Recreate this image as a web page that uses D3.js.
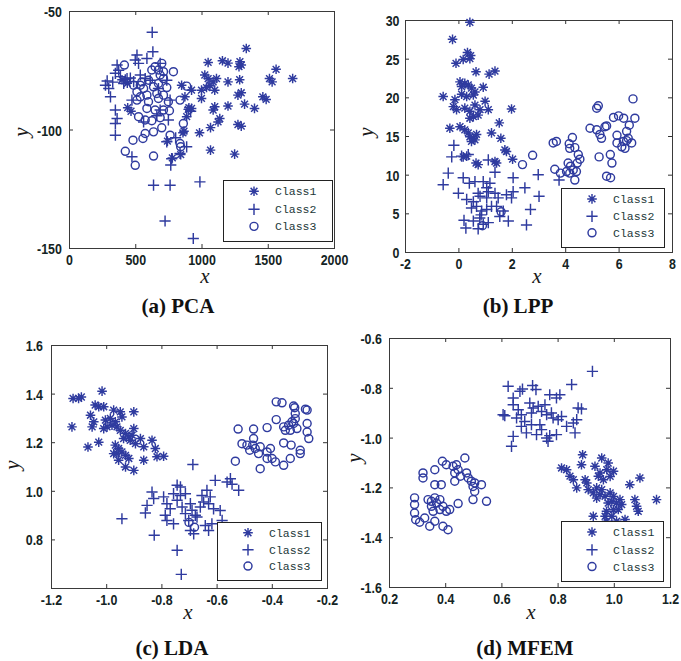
<!DOCTYPE html>
<html>
<head>
<meta charset="utf-8">
<script src="https://cdn.jsdelivr.net/npm/d3@7"></script>
<style>
  body { margin: 0; background: #fff; }
  svg { display: block; }
</style>
</head>
<body>
<svg id="fig" width="681" height="661"></svg>
<script>
// ---- data: [x, y] per point ----
const classNames = ['Class1', 'Class2', 'Class3'];

// (a) PCA
const pcaXTicks = [0, 500, 1000, 1500, 2000];
const pcaYTicks = [-150, -100, -50];
const pcaClass1 = [[1338,-65.8],[1050,-71.7],[1158,-71],[1200,-72],[1290,-71.4],[1300,-72.8],[1283,-73.5],[1563,-74.6],[1688,-78.5],[1513,-78.5],[1533,-79.9],[1025,-77],[1050,-78.5],[1088,-79.9],[1063,-81.3],[1038,-82.3],[1100,-83.4],[1113,-78.5],[1000,-83.4],[1200,-79.9],[1288,-79],[850,-81.3],[925,-83.4],[875,-86.2],[1000,-86.9],[1275,-85.5],[1300,-84.5],[1463,-86.2],[1488,-87.3],[1325,-89.3],[1400,-91.1],[1200,-90.1],[1100,-90.4],[1088,-91.8],[900,-91.5],[925,-91.1],[888,-94.6],[1138,-95.4],[1125,-96.8],[1275,-97.9],[1300,-98.6],[1068,-99.2],[985,-101.4],[860,-101.4],[1068,-108.7],[1250,-110.4],[443,-90.8],[468,-92.3],[905,-90.8],[868,-100.7],[743,-104.9],[780,-112],[843,-110.6],[400,-79],[440,-80.5]];
const pcaClass2 = [[628,-59],[633,-67.2],[513,-68.6],[500,-70.7],[525,-72.1],[588,-70],[688,-72.1],[363,-72.8],[375,-75],[350,-76.3],[275,-81.3],[300,-82.7],[313,-86.2],[350,-91.8],[363,-95.4],[350,-97.5],[350,-102.4],[388,-77.7],[425,-79],[463,-78.3],[488,-79.8],[413,-80.6],[538,-77],[575,-78.5],[613,-79.2],[675,-82.7],[738,-79.2],[763,-87.6],[750,-96],[638,-123.5],[763,-123.5],[988,-122.1],[725,-138.6],[938,-146],[688,-91.8],[663,-94.2],[475,-111.5],[888,-107.3],[838,-110.1],[775,-112.3],[768,-115],[738,-105.2],[563,-96.8],[475,-87.6],[438,-78.5],[805,-103.5],[918,-92.3],[288,-79.5],[330,-80]];
const pcaClass3 = [[418,-72.8],[625,-74.9],[650,-73.5],[713,-75.6],[788,-75.6],[700,-72.1],[550,-79.9],[600,-79.2],[563,-82.7],[638,-82],[675,-80.6],[738,-82.3],[513,-84.1],[538,-86.2],[588,-85.5],[663,-84.8],[713,-85.5],[513,-87.6],[600,-88.3],[675,-86.9],[750,-88.3],[588,-91.1],[650,-91.8],[713,-91.8],[758,-92.1],[525,-94.6],[575,-96],[625,-96.3],[688,-95],[700,-99.3],[638,-101],[575,-101.7],[483,-104.5],[558,-103.8],[763,-102.4],[838,-105.9],[843,-107.3],[863,-97.5],[838,-87.6],[888,-81.7],[425,-109.2],[500,-115.1],[638,-111.2],[688,-77],[713,-78.5],[675,-74.9],[488,-81.3],[538,-81.3]];

// (b) LPP
const lppXTicks = [-2, 0, 2, 4, 6, 8];
const lppYTicks = [0, 5, 10, 15, 20, 25, 30];
const lppClass1 = [[0.43,29.7],[-0.22,27.5],[-0.09,24.4],[0.34,25.8],[0.43,25.0],[0.18,24.9],[0.46,25.4],[0.66,23.3],[1.15,23.0],[1.37,23.4],[-0.57,20.1],[0.06,22.0],[0.24,21.8],[0.12,21.4],[0.37,21.6],[0.49,21.2],[0.93,21.3],[0.12,20.4],[0.31,20.1],[0.56,20.3],[0.62,20.7],[-0.13,19.7],[-0.19,18.8],[-0.07,18.4],[0.24,18.6],[0.43,18.2],[0.62,19.0],[0.81,18.4],[1.0,19.5],[1.12,18.4],[1.99,18.5],[0.56,17.5],[0.74,17.7],[0.43,17.3],[-0.32,16.0],[0.06,16.2],[0.24,15.8],[0.37,15.4],[0.56,14.7],[0.68,15.2],[0.49,14.3],[0.62,14.5],[0.43,14.9],[1.24,15.4],[1.53,16.7],[1.59,14.7],[1.74,13.2],[1.80,13.0],[2.03,12.0],[0.66,11.5],[0.74,11.3],[1.37,11.7],[1.43,11.5],[0.18,12.3],[0.31,12.4]];
const lppClass2 = [[-0.17,13.8],[-0.25,12.3],[0.12,12.4],[0.37,12.6],[-0.38,10.2],[-0.57,8.7],[0.18,9.6],[0.41,8.9],[0.62,9.1],[0.0,7.6],[0.31,6.8],[0.56,6.5],[0.81,7.2],[1.06,7.0],[0.93,9.1],[1.18,8.9],[1.06,8.3],[0.74,7.6],[1.12,7.8],[1.37,7.6],[1.49,7.0],[0.49,5.7],[0.68,5.9],[0.87,5.3],[1.06,5.5],[1.24,5.9],[0.21,4.1],[0.28,3.1],[0.56,4.0],[0.74,3.0],[0.93,3.6],[1.12,3.8],[1.43,5.9],[1.68,5.3],[1.55,4.6],[1.87,4.0],[1.80,7.4],[1.99,7.0],[2.05,9.6],[2.05,7.8],[2.49,8.3],[2.70,5.5],[2.55,3.5],[2.99,10.0],[3.02,7.2],[1.12,11.9],[1.37,10.3],[3.77,9.3],[0.85,4.8],[0.8,4.4]];
const lppClass3 = [[2.78,12.5],[2.40,11.3],[3.55,14.1],[3.67,14.3],[3.61,10.7],[3.82,10.2],[4.27,14.8],[4.15,14.0],[4.17,13.4],[4.36,13.5],[4.49,12.6],[4.55,12.0],[4.45,11.5],[4.11,11.5],[4.20,11.1],[4.30,10.6],[4.42,10.4],[4.17,10.2],[4.05,10.4],[4.36,9.3],[4.93,16.0],[5.18,18.6],[5.24,18.9],[5.18,15.8],[5.30,15.2],[5.36,14.7],[5.49,16.2],[5.55,16.3],[5.27,12.3],[5.55,9.8],[5.70,9.6],[5.69,12.6],[5.75,11.5],[5.81,17.4],[6.0,17.6],[6.19,17.3],[5.94,15.1],[5.94,14.1],[6.12,13.6],[6.24,13.4],[6.18,14.3],[6.30,15.6],[6.36,14.7],[6.49,14.1],[6.54,19.8],[6.61,17.3],[6.4,16.4],[6.30,14.4],[1.6,5.2],[0.9,3.4]];

// (c) LDA
const ldaXTicks = [-1.2, -1.0, -0.8, -0.6, -0.4, -0.2];
const ldaYTicks = [0.8, 1.0, 1.2, 1.4, 1.6];
const ldaClass1 = [[-1.12,1.38],[-1.09,1.386],[-1.10,1.38],[-1.015,1.41],[-1.124,1.263],[-1.066,1.18],[-1.027,1.2],[-1.057,1.311],[-1.045,1.284],[-1.051,1.263],[-1.04,1.353],[-1.027,1.346],[-1.009,1.346],[-0.973,1.332],[-0.949,1.325],[-0.943,1.304],[-0.9,1.325],[-1.003,1.291],[-0.985,1.298],[-0.967,1.284],[-0.997,1.263],[-0.979,1.27],[-0.961,1.263],[-0.949,1.249],[-0.93,1.236],[-0.918,1.222],[-0.906,1.229],[-0.937,1.215],[-0.913,1.208],[-0.967,1.188],[-0.955,1.174],[-0.943,1.16],[-0.961,1.153],[-0.93,1.146],[-0.973,1.153],[-0.955,1.126],[-0.918,1.133],[-0.93,1.098],[-0.9,1.084],[-0.894,1.194],[-0.876,1.215],[-0.864,1.181],[-0.834,1.208],[-0.822,1.174],[-0.816,1.14],[-0.792,1.142],[-0.864,1.126],[-1.009,1.256],[-0.9,1.256]];
const ldaClass2 = [[-0.686,1.108],[-0.943,0.885],[-0.826,0.817],[-0.743,0.755],[-0.728,0.656],[-0.834,0.995],[-0.828,0.968],[-0.852,0.94],[-0.858,0.909],[-0.792,0.975],[-0.78,0.947],[-0.768,0.926],[-0.786,0.899],[-0.78,0.878],[-0.756,0.864],[-0.743,1.023],[-0.731,1.016],[-0.756,0.988],[-0.743,0.961],[-0.731,0.981],[-0.713,0.988],[-0.725,0.933],[-0.713,0.906],[-0.695,0.947],[-0.689,0.92],[-0.677,0.899],[-0.701,0.878],[-0.671,0.892],[-0.659,0.933],[-0.647,0.954],[-0.653,0.981],[-0.635,1.002],[-0.623,0.975],[-0.629,0.947],[-0.611,0.926],[-0.695,0.837],[-0.683,0.823],[-0.641,0.857],[-0.629,0.837],[-0.605,1.043],[-0.587,0.919],[-0.617,0.864],[-0.562,1.036],[-0.55,1.05],[-0.52,1.002],[-0.544,1.027],[-0.58,0.878]];
const ldaClass3 = [[-0.532,1.122],[-0.522,1.254],[-0.466,1.254],[-0.466,1.215],[-0.469,1.188],[-0.46,1.174],[-0.448,1.153],[-0.508,1.194],[-0.49,1.188],[-0.48,1.167],[-0.417,1.26],[-0.442,1.181],[-0.417,1.16],[-0.405,1.174],[-0.399,1.133],[-0.417,1.133],[-0.387,1.119],[-0.442,1.091],[-0.384,1.293],[-0.384,1.366],[-0.363,1.362],[-0.321,1.349],[-0.317,1.342],[-0.278,1.336],[-0.272,1.332],[-0.357,1.263],[-0.339,1.27],[-0.321,1.277],[-0.315,1.297],[-0.333,1.249],[-0.351,1.249],[-0.309,1.256],[-0.327,1.284],[-0.272,1.277],[-0.272,1.242],[-0.266,1.215],[-0.357,1.197],[-0.33,1.188],[-0.357,1.105],[-0.333,1.133],[-0.297,1.167],[-0.297,1.153],[-0.315,1.318],[-0.7,0.87],[-0.68,0.85]];

// (d) MFEM
const mfemXTicks = [0.2, 0.4, 0.6, 0.8, 1.0, 1.2];
const mfemYTicks = [-1.6, -1.4, -1.2, -1.0, -0.8, -0.6];
const mfemClass1 = [[0.889,-1.069],[0.957,-1.082],[0.98,-1.102],[0.814,-1.122],[0.832,-1.129],[0.885,-1.109],[0.933,-1.115],[0.951,-1.142],[0.975,-1.129],[0.987,-1.156],[0.999,-1.135],[0.963,-1.169],[0.945,-1.155],[0.844,-1.155],[0.856,-1.169],[0.898,-1.169],[0.904,-1.182],[0.868,-1.202],[0.909,-1.209],[0.939,-1.202],[0.957,-1.209],[0.927,-1.222],[0.951,-1.229],[0.969,-1.236],[0.939,-1.243],[0.987,-1.222],[0.999,-1.236],[0.993,-1.256],[1.01,-1.263],[0.98,-1.263],[1.022,-1.249],[1.028,-1.269],[1.016,-1.289],[0.974,-1.296],[0.969,-1.316],[0.993,-1.316],[0.999,-1.289],[1.057,-1.189],[1.075,-1.249],[1.093,-1.162],[1.081,-1.276],[1.087,-1.296],[1.152,-1.249],[0.927,-1.316],[0.974,-1.336],[1.01,-1.336],[1.04,-1.329]];
const mfemClass2 = [[0.924,-0.734],[0.85,-0.787],[0.624,-0.794],[0.666,-0.814],[0.675,-0.805],[0.642,-0.841],[0.711,-0.791],[0.723,-0.807],[0.772,-0.828],[0.796,-0.841],[0.808,-0.828],[0.606,-0.908],[0.612,-0.912],[0.642,-0.868],[0.66,-0.888],[0.671,-0.908],[0.654,-0.921],[0.701,-0.861],[0.713,-0.881],[0.731,-0.874],[0.743,-0.895],[0.755,-0.868],[0.707,-0.901],[0.761,-0.908],[0.778,-0.901],[0.784,-0.921],[0.802,-0.928],[0.814,-0.915],[0.856,-0.941],[0.868,-0.928],[0.873,-0.881],[0.885,-0.885],[0.671,-0.955],[0.683,-0.935],[0.689,-0.981],[0.642,-0.995],[0.636,-1.035],[0.725,-0.988],[0.743,-0.968],[0.761,-1.002],[0.772,-0.992],[0.796,-0.988],[0.707,-0.948],[0.737,-0.948],[0.832,-0.955],[0.862,-0.981],[0.766,-1.015]];
const mfemClass3 = [[0.47,-1.082],[0.39,-1.095],[0.404,-1.109],[0.428,-1.115],[0.44,-1.109],[0.446,-1.129],[0.434,-1.142],[0.454,-1.155],[0.321,-1.142],[0.321,-1.162],[0.363,-1.129],[0.476,-1.142],[0.482,-1.162],[0.493,-1.175],[0.505,-1.182],[0.499,-1.196],[0.434,-1.175],[0.363,-1.189],[0.386,-1.189],[0.529,-1.189],[0.505,-1.216],[0.291,-1.242],[0.291,-1.269],[0.291,-1.303],[0.295,-1.33],[0.309,-1.34],[0.339,-1.249],[0.351,-1.256],[0.363,-1.242],[0.369,-1.263],[0.381,-1.249],[0.351,-1.276],[0.357,-1.296],[0.381,-1.289],[0.392,-1.276],[0.404,-1.296],[0.416,-1.289],[0.327,-1.323],[0.345,-1.356],[0.363,-1.336],[0.392,-1.356],[0.41,-1.37],[0.446,-1.265],[0.499,-1.249],[0.547,-1.256]];

const markerColor = '#2f3b9f';
const markerTypes = ['star', 'plus', 'circle'];

// draws one marker of the given type centred on (0,0) of the selection
function addMarker(sel, type) {
  if (type === 'circle') {
    sel.append('circle').attr('r', 4).attr('fill', 'none');
  } else if (type === 'plus') {
    sel.append('path').attr('d', 'M-5.6,0H5.6M0,-5.6V5.6');
  } else {
    sel.append('path').attr('d', 'M-4.8,0H4.8M0,-4.8V4.8M-3.4,-3.4L3.4,3.4M-3.4,3.4L3.4,-3.4');
  }
}

class ScatterPanel {

  constructor(_config, _data) {
    this.config = _config;
    this.data = _data;
    this.initVis();
  }

  initVis() {
    let vis = this;
    const c = vis.config;

    vis.g = d3.select('#fig').append('g');

    vis.xScale = d3.scaleLinear().domain(c.xDomain).range([c.left, c.right]);
    vis.yScale = d3.scaleLinear().domain(c.yDomain).range([c.bottom, c.top]);

    const tickFont = g => g.selectAll('text')
      .attr('font-family', 'Liberation Sans, Arial, sans-serif')
      .attr('font-size', 15.5)
      .attr('font-weight', 'bold')
      .attr('fill', '#142424')
      .attr('transform', 'scale(0.8,1)');

    // bottom + left axes with labels, ticks pointing inward
    vis.g.append('g')
      .attr('transform', `translate(0,${c.bottom})`)
      .call(d3.axisBottom(vis.xScale).tickValues(c.xTicks).tickFormat(c.fmt)
        .tickSizeInner(-4).tickSizeOuter(0).tickPadding(6))
      .call(g => g.select('.domain').remove())
      .call(tickFont);

    vis.g.append('g')
      .attr('transform', `translate(${c.left},0)`)
      .call(d3.axisLeft(vis.yScale).tickValues(c.yTicks).tickFormat(c.fmt)
        .tickSizeInner(-4).tickSizeOuter(0).tickPadding(c.yPad))
      .call(g => g.select('.domain').remove())
      .call(tickFont)
      .selectAll('text').attr('dy', '0.36em');

    // mirrored ticks on top and right
    vis.g.append('g')
      .attr('transform', `translate(0,${c.top})`)
      .call(d3.axisTop(vis.xScale).tickValues(c.xTicks).tickFormat('').tickSizeInner(-4).tickSizeOuter(0))
      .call(g => g.select('.domain').remove());
    vis.g.append('g')
      .attr('transform', `translate(${c.right},0)`)
      .call(d3.axisRight(vis.yScale).tickValues(c.yTicks).tickFormat('').tickSizeInner(-4).tickSizeOuter(0))
      .call(g => g.select('.domain').remove());

    vis.g.selectAll('.tick line').attr('stroke', '#333');

    vis.g.append('rect')
      .attr('x', c.left + 0.5).attr('y', c.top + 0.5)
      .attr('width', c.right - c.left).attr('height', c.bottom - c.top)
      .attr('fill', 'none').attr('stroke', '#3a3a3a').attr('stroke-width', 1);

    // axis names + panel title
    vis.g.append('text')
      .attr('x', c.xLabel[0]).attr('y', c.xLabel[1])
      .attr('text-anchor', 'middle')
      .attr('font-family', 'Liberation Serif, Times New Roman, serif')
      .attr('font-style', 'italic').attr('font-size', 21).attr('fill', '#1a1a1a')
      .text('x');
    vis.g.append('text')
      .attr('transform', `translate(${c.yLabel[0]},${c.yLabel[1]}) rotate(-90)`)
      .attr('text-anchor', 'middle').attr('dy', '0.2em')
      .attr('font-family', 'Liberation Serif, Times New Roman, serif')
      .attr('font-style', 'italic').attr('font-size', 21).attr('fill', '#1a1a1a')
      .text('y');
    vis.g.append('text')
      .attr('x', c.titlePos[0]).attr('y', c.titlePos[1])
      .attr('text-anchor', 'middle')
      .attr('font-family', 'Liberation Serif, Times New Roman, serif')
      .attr('font-weight', 'bold').attr('font-size', 21).attr('fill', '#111')
      .text(c.title);

    vis.renderVis();
  }

  renderVis() {
    let vis = this;
    const c = vis.config;

    vis.data.forEach((pts, i) => {
      vis.g.append('g')
        .attr('stroke', markerColor).attr('stroke-width', 1.45)
        .selectAll('g')
        .data(pts)
        .join('g')
          .attr('transform', d => `translate(${vis.xScale(d[0])},${vis.yScale(d[1])})`)
          .each(function() { addMarker(d3.select(this), markerTypes[i]); });
    });

    // legend box (opaque, drawn over the points)
    const [lx, ly, lw, lh] = c.legend;
    const leg = vis.g.append('g');
    leg.append('rect')
      .attr('x', lx + 0.5).attr('y', ly + 0.5).attr('width', lw).attr('height', lh)
      .attr('fill', '#fff').attr('stroke', '#222').attr('stroke-width', 1);
    const rowY = [0.185, 0.48, 0.76];
    classNames.forEach((name, i) => {
      const yy = ly + lh * rowY[i];
      const m = leg.append('g')
        .attr('transform', `translate(${lx + 31},${yy})`)
        .attr('stroke', markerColor).attr('stroke-width', 1.45);
      addMarker(m, markerTypes[i]);
      leg.append('text')
        .attr('x', lx + 52).attr('y', yy + 4)
        .attr('font-family', 'Liberation Mono, Courier New, monospace')
        .attr('font-size', 11.5).attr('fill', '#1b3838')
        .text(name);
    });
  }
}

const fmt0 = d => String(d);
const fmt1 = d => d.toFixed(1);

new ScatterPanel({
  title: '(a) PCA', titlePos: [178, 313],
  left: 69, right: 334, top: 11, bottom: 248,
  xDomain: [0, 2000], yDomain: [-150, -50], xTicks: pcaXTicks, yTicks: pcaYTicks, fmt: fmt0, yPad: 9,
  xLabel: [205, 283], yLabel: [24, 132], legend: [223, 180, 109, 61]
}, [pcaClass1, pcaClass2, pcaClass3]);

new ScatterPanel({
  title: '(b) LPP', titlePos: [518, 313],
  left: 405, right: 672, top: 20, bottom: 252,
  xDomain: [-2, 8], yDomain: [0, 30], xTicks: lppXTicks, yTicks: lppYTicks, fmt: fmt0, yPad: 7,
  xLabel: [537, 283], yLabel: [369, 132], legend: [561, 188, 103, 59]
}, [lppClass1, lppClass2, lppClass3]);

new ScatterPanel({
  title: '(c) LDA', titlePos: [172, 655],
  left: 51, right: 327, top: 345, bottom: 588,
  xDomain: [-1.2, -0.2], yDomain: [0.6, 1.6], xTicks: ldaXTicks, yTicks: ldaYTicks, fmt: fmt1, yPad: 10,
  xLabel: [188, 619], yLabel: [15, 465], legend: [217, 522, 104, 58]
}, [ldaClass1, ldaClass2, ldaClass3]);

new ScatterPanel({
  title: '(d) MFEM', titlePos: [525, 655],
  left: 389, right: 670, top: 338, bottom: 587,
  xDomain: [0.2, 1.2], yDomain: [-1.6, -0.6], xTicks: mfemXTicks, yTicks: mfemYTicks, fmt: fmt1, yPad: 9,
  xLabel: [531, 619], yLabel: [357, 458], legend: [561, 521, 102, 60]
}, [mfemClass1, mfemClass2, mfemClass3]);
</script>
</body>
</html>
